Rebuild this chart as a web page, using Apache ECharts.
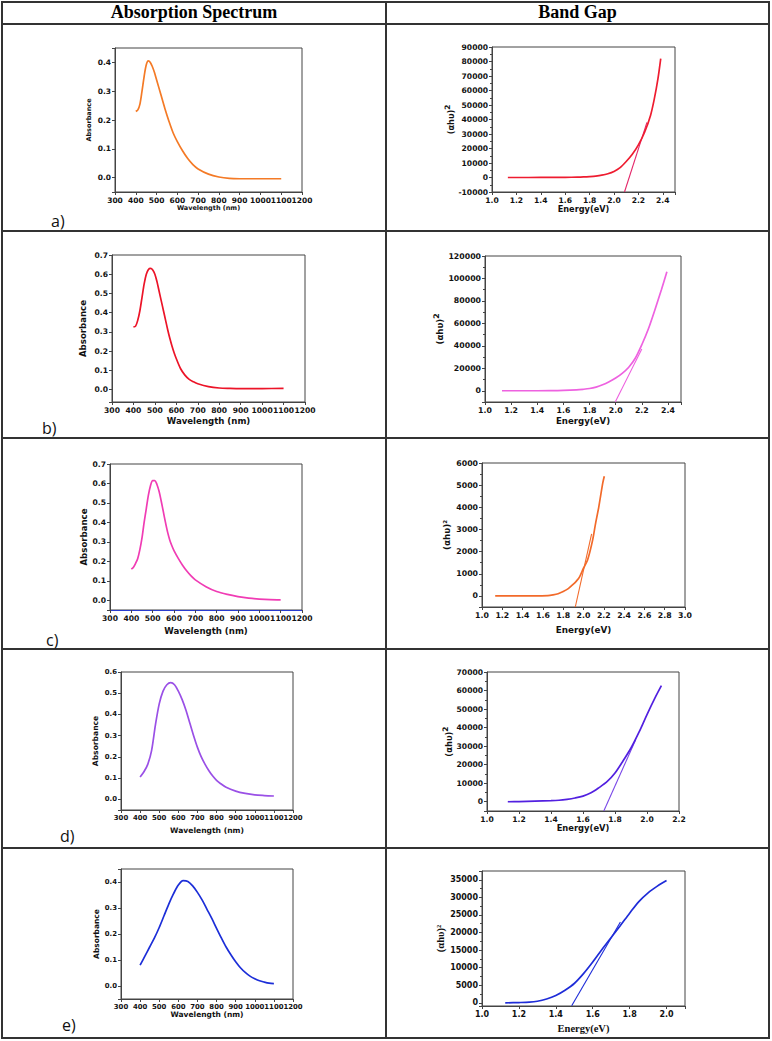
<!DOCTYPE html>
<html><head><meta charset="utf-8">
<script src="https://cdn.jsdelivr.net/npm/echarts@6/dist/echarts.min.js"></script>
<style>
html,body{margin:0;padding:0;background:#fff;}
#wrap{position:relative;width:772px;height:1041px;overflow:hidden;background:#fff;}
#chart{position:absolute;left:0;top:0;width:772px;height:1041px;}
.ln{position:absolute;background:#333;}
.hd{position:absolute;font-family:"Liberation Serif","Times New Roman",serif;font-weight:bold;font-size:18px;text-align:center;top:2px;line-height:21px;color:#000;}
.lb{position:absolute;font-family:"Open Sans","Liberation Sans",sans-serif;font-size:16px;line-height:16px;color:#111;}
</style></head>
<body>
<div id="wrap">
<div id="chart"></div>
<div class="ln" style="left:1px;top:1px;width:769px;height:2px"></div>
<div class="ln" style="left:1px;top:1037px;width:769px;height:2px"></div>
<div class="ln" style="left:1px;top:1px;width:2px;height:1038px"></div>
<div class="ln" style="left:768px;top:1px;width:2px;height:1038px"></div>
<div class="ln" style="left:385px;top:1px;width:2px;height:1038px"></div>
<div class="ln" style="left:1px;top:23px;width:769px;height:2px"></div>
<div class="ln" style="left:1px;top:230px;width:769px;height:2px"></div>
<div class="ln" style="left:1px;top:437px;width:769px;height:2px"></div>
<div class="ln" style="left:1px;top:648px;width:769px;height:2px"></div>
<div class="ln" style="left:1px;top:847px;width:769px;height:2px"></div>
<div class="hd" style="left:3px;width:382px">Absorption Spectrum</div>
<div class="hd" style="left:387px;width:381px">Band Gap</div>
<div class="lb" style="left:51px;top:213px">a)</div>
<div class="lb" style="left:42px;top:420px">b)</div>
<div class="lb" style="left:46px;top:632px">c)</div>
<div class="lb" style="left:60px;top:828px">d)</div>
<div class="lb" style="left:62px;top:1017px">e)</div>
</div>
<script>
// ---- Absorption spectra (wavelength nm, absorbance) ----
const wlA = [400,410,420,430,440,450,460,470,480,490,500,520,540,560,580,600,625,650,675,700,750,800,850,900,950,1000,1050,1100];
const absA = [0.23,0.235,0.255,0.30,0.35,0.39,0.405,0.40,0.385,0.365,0.34,0.29,0.24,0.195,0.155,0.125,0.093,0.066,0.045,0.03,0.012,0.002,-0.003,-0.004,-0.004,-0.004,-0.004,-0.004];

const wlB = [400,410,420,430,440,450,460,470,480,490,500,510,520,530,540,550,560,570,580,590,600,620,640,660,680,700,750,800,850,900,1000,1100];
const absB = [0.326,0.33,0.36,0.41,0.48,0.55,0.60,0.625,0.63,0.622,0.60,0.56,0.51,0.46,0.41,0.36,0.31,0.265,0.225,0.19,0.16,0.108,0.075,0.053,0.04,0.03,0.015,0.008,0.006,0.005,0.005,0.006];

const wlC = [400,410,420,430,440,450,460,470,480,490,500,510,520,530,540,550,560,570,580,590,600,620,640,660,680,700,750,800,850,900,950,1000,1050,1100];
const absC = [0.16,0.17,0.19,0.215,0.26,0.32,0.40,0.47,0.54,0.59,0.615,0.615,0.595,0.56,0.51,0.455,0.40,0.35,0.31,0.28,0.255,0.215,0.18,0.15,0.125,0.105,0.07,0.045,0.03,0.019,0.011,0.006,0.003,0.002];

const wlD = [400,420,440,460,480,500,520,540,560,580,600,620,640,660,680,700,720,740,760,780,800,820,850,900,950,1000,1050,1100];
const absD = [0.105,0.13,0.165,0.23,0.35,0.45,0.51,0.54,0.55,0.54,0.51,0.47,0.42,0.36,0.30,0.245,0.2,0.165,0.135,0.11,0.09,0.075,0.057,0.039,0.028,0.021,0.018,0.016];

const wlE = [400,425,450,475,500,525,550,575,600,625,650,675,700,725,750,775,800,825,850,875,900,925,950,975,1000,1025,1050,1075,1100];
const absE = [0.08,0.115,0.15,0.185,0.225,0.27,0.315,0.355,0.388,0.405,0.402,0.385,0.36,0.33,0.295,0.26,0.222,0.185,0.15,0.12,0.093,0.07,0.052,0.038,0.028,0.02,0.015,0.011,0.009];

// ---- Tauc plots (energy eV, (αhυ)^2) and tangent lines ----
const eA = [1.13,1.3,1.5,1.6,1.7,1.75,1.8,1.85,1.9,1.95,2.0,2.05,2.1,2.15,2.2,2.25,2.3,2.33,2.36,2.383];
const ahvA = [0,0,50,100,250,400,650,1000,1600,2600,4200,6800,11000,16000,22500,31000,43000,54000,68000,82000];
const tanEA = [2.086,2.27];
const tanYA = [-10000,38000];

const eB = [1.13,1.3,1.5,1.6,1.7,1.75,1.8,1.85,1.9,1.95,2.0,2.05,2.1,2.15,2.2,2.25,2.3,2.35,2.392];
const ahvB = [0,0,100,300,800,1300,2000,3300,5300,8000,11300,15500,21000,29000,41000,55000,72000,90000,106000];
const tanEB = [1.997,2.2];
const tanYB = [-10000,37200];

const eC = [1.13,1.3,1.5,1.65,1.7,1.75,1.8,1.85,1.9,1.93,1.96,2.0,2.04,2.09,2.12,2.15,2.19,2.205];
const ahvC = [0,0,0,10,45,100,200,330,530,670,850,1250,1620,2520,3300,4000,5100,5400];
const tanEC = [1.919,2.08];
const tanYC = [-500,2800];

const eD = [1.13,1.2,1.3,1.4,1.45,1.5,1.55,1.6,1.65,1.7,1.75,1.8,1.85,1.9,1.95,2.0,2.05,2.09];
const ahvD = [0,100,300,550,800,1300,2000,3000,4800,7600,10800,15500,22000,29000,37500,47000,56000,62600];
const tanED = [1.73,1.93];
const tanYD = [-5000,33600];

const eE = [1.126,1.2,1.257,1.3,1.35,1.4,1.45,1.5,1.55,1.6,1.65,1.7,1.75,1.8,1.85,1.9,1.95,2.0];
const ahvE = [0,80,190,450,1100,2100,3600,5500,8300,11600,15200,18600,22000,25500,28800,31300,33200,34800];
const tanEE = [1.486,1.75];
const tanYE = [-850,23000];

// ---- axis tick settings [min, max, step, decimals] ----
const absX = [300,1200,100,0];
const yAbsA = [-0.05,0.45,0.1,1];
const yAbsB = [-0.065,0.7,0.1,1];
const yAbsC = [-0.05,0.7,0.1,1];
const yAbsD = [-0.05,0.6,0.1,1];
const yAbsE = [-0.05,0.45,0.1,1];
const xBgA = [1.0,2.5,0.2,1], yBgA = [-10000,90000,10000,0];
const xBgB = [1.0,2.5,0.2,1], yBgB = [-10000,120000,20000,0];
const xBgC = [1.0,3.0,0.2,1], yBgC = [-500,6000,1000,0];
const xBgD = [1.0,2.2,0.2,1], yBgD = [-5000,70000,10000,0];
const xBgE = [1.0,2.1,0.2,1], yBgE = [-900,37500,5000,0];

const zip = (a,b) => a.map((v,i)=>[v,b[i]]);
const SANS = '"DejaVu Sans", Verdana, sans-serif';
const SERIF = '"Liberation Serif", "Times New Roman", serif';

const panels = [
  {xs:wlA, ys:absA, color:'#f47a26', grid:[115,48,187,144], x:absX, y:yAbsA, xn:'Wavelength (nm)', yn:'Absorbance', tick:7.5, ns:6.5, xg:11, yg:23},
  {xs:eA, ys:ahvA, tx:tanEA, ty:tanYA, color:'#ee1c30', tcolor:'#e4286a', grid:[492,47,183,145], x:xBgA, y:yBgA, xn:'Energy(eV)', yn:'(αhυ)', sup:true, tick:7.6, ns:8.2, xg:12, yg:26, minor:true},
  {xs:wlB, ys:absB, color:'#ec1428', grid:[112,255,193,147], x:absX, y:yAbsB, xn:'Wavelength (nm)', yn:'Absorbance', tick:7.6, ns:8.6, xg:14, yg:25},
  {xs:eB, ys:ahvB, tx:tanEB, ty:tanYB, color:'#ee62e0', tcolor:'#ee62e0', grid:[485,256,196,146], x:xBgB, y:yBgB, xn:'Energy(eV)', yn:'(αhυ)', sup:true, tick:7.8, ns:8.6, xg:14, yg:30, minor:true},
  {xs:wlC, ys:absC, color:'#f03cb4', grid:[110,464,192,146], x:absX, y:yAbsC, xn:'Wavelength (nm)', yn:'Absorbance', tick:7.6, ns:8.6, xg:16, yg:20, xline:'#2a3cd0'},
  {xs:eC, ys:ahvC, tx:tanEC, ty:tanYC, color:'#f26a2a', tcolor:'#f26a2a', grid:[482,463,203,144], x:xBgC, y:yBgC, xn:'Energy(eV)', yn:'(αhυ)²', tick:7.8, ns:8.8, xg:18, yg:31, minor:true},
  {xs:wlD, ys:absD, color:'#9a50e6', grid:[121,672,172,138], x:absX, y:yAbsD, xn:'Wavelength (nm)', yn:'Absorbance', tick:6.9, ns:7.6, xg:16, yg:22},
  {xs:eD, ys:ahvD, tx:tanED, ty:tanYD, color:'#5220e0', tcolor:'#7a48e8', grid:[487,672,192,139], x:xBgD, y:yBgD, xn:'Energy(eV)', yn:'(αhυ)', sup:true, tick:7.6, ns:8.4, xg:10, yg:29, minor:true},
  {xs:wlE, ys:absE, color:'#1c2ed8', grid:[121,869,172,130], x:absX, y:yAbsE, xn:'Wavelength (nm)', yn:'Absorbance', tick:6.9, ns:7.5, xg:11, yg:19},
  {xs:eE, ys:ahvE, tx:tanEE, ty:tanYE, color:'#1e2cd8', tcolor:'#1e2cd8', grid:[482,871,203,135], x:xBgE, y:yBgE, xn:'Energy(eV)', yn:'(αhυ)²', tick:8, ns:10.5, xg:17, yg:35, minor:true, serif:true}
];

function labelFmt(step, dec){
  return function(v){
    const k = v/step;
    return Math.abs(k-Math.round(k)) < 1e-6 ? (Math.round(k)*step).toFixed(dec) : '';
  };
}

function axis(i, r, name, gap, p, isY){
  const fam = p.serif ? SERIF : SANS;
  const nts = {fontSize:p.ns, fontWeight:'bold', color:'#111', fontFamily:fam};
  let nm = name;
  if (isY && p.sup) {
    nm = '{m|' + name + '}{s|2}';
    nts.rich = {
      m:{fontSize:p.ns, fontWeight:'bold', color:'#111', fontFamily:fam, lineHeight:p.ns*1.7},
      s:{fontSize:p.ns*0.9, fontWeight:'bold', color:'#111', fontFamily:fam, verticalAlign:'top', lineHeight:p.ns*0.9}
    };
  }
  return {
    type:'value', gridIndex:i, min:r[0], max:r[1],
    minInterval:r[2], maxInterval:r[2], splitNumber:Math.round((r[1]-r[0])/r[2]),
    name:nm, nameLocation:'middle', nameGap:gap,
    nameTextStyle:nts,
    axisLine:{show:true, onZero:false, lineStyle:{color:(!isY && p.xline) ? p.xline : '#444', width:1}},
    axisTick:{show:true, length:3, lineStyle:{color:'#444'}},
    minorTick:{show:!!(p.minor && isY), splitNumber:2, length:2, lineStyle:{color:'#444'}},
    axisLabel:{fontSize:p.tick, fontWeight:'bold', color:'#111', fontFamily:SANS, margin:4, interval:0,
      hideOverlap:false, showMinLabel:true, showMaxLabel:true, formatter:labelFmt(r[2], r[3])},
    splitLine:{show:false}
  };
}

const grid=[], xAxis=[], yAxis=[], series=[];
panels.forEach((p,i)=>{
  grid.push({left:p.grid[0], top:p.grid[1], width:p.grid[2], height:p.grid[3], show:true, borderColor:'#444', borderWidth:1, backgroundColor:'transparent'});
  xAxis.push(axis(i, p.x, p.xn, p.xg, p, false));
  yAxis.push(axis(i, p.y, p.yn, p.yg, p, true));
  series.push({type:'line', xAxisIndex:i, yAxisIndex:i, data:zip(p.xs,p.ys), showSymbol:false, smooth:0.3,
    lineStyle:{color:p.color, width:1.7}, itemStyle:{color:p.color}, z:3});
  if (p.tx) {
    series.push({type:'line', xAxisIndex:i, yAxisIndex:i, data:zip(p.tx,p.ty), showSymbol:false,
      lineStyle:{color:p.tcolor, width:1.1}, itemStyle:{color:p.tcolor}, z:2});
  }
});

const chart = echarts.init(document.getElementById('chart'), null, {renderer:'svg'});
chart.setOption({animation:false, backgroundColor:'transparent', grid, xAxis, yAxis, series});
</script>
</body></html>
